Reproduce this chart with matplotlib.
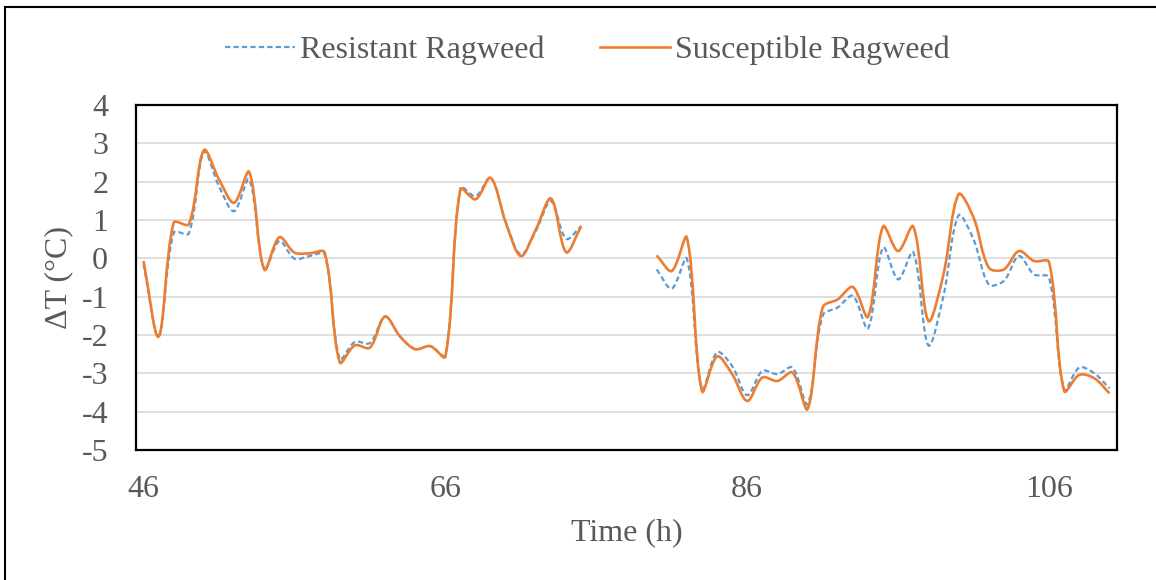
import numpy as np
import matplotlib
matplotlib.use("Agg")
import matplotlib.pyplot as plt
from matplotlib.path import Path
from matplotlib.patches import PathPatch
from matplotlib.lines import Line2D

plt.rcParams['font.family'] = ['Liberation Serif', 'DejaVu Serif']
plt.rcParams['axes.unicode_minus'] = False

# hourly readings, no data logged for 76-79 h
hours = list(range(46, 111))
nan = np.nan
resistant = [-0.15, -2.04, 0.67, 0.65, 2.78, 1.88, 1.23, 2.06, -0.29, 0.45,
             -0.01, 0.06, 0.10, -2.62, -2.18, -2.21, -1.52, -2.04, -2.37, -2.29,
             -2.53, 1.84, 1.62, 2.10, 0.95, 0.10, 0.72, 1.49, 0.51, 0.84,
             nan, nan, nan, nan,
             -0.29, -0.79, -0.01, -3.42, -2.45, -2.81, -3.57, -2.94, -3.02, -2.85,
             -3.80, -1.49, -1.28, -0.98, -1.83, 0.28, -0.55, 0.16, -2.27, -0.98,
             1.12, 0.49, -0.68, -0.59, 0.06, -0.42, -0.50, -3.42, -2.85, -3.00,
             -3.39]
susceptible = [-0.07, -2.04, 0.93, 0.89, 2.82, 2.06, 1.45, 2.25, -0.29, 0.55,
               0.15, 0.13, 0.15, -2.71, -2.27, -2.33, -1.52, -2.04, -2.37, -2.29,
               -2.56, 1.80, 1.54, 2.10, 0.93, 0.06, 0.76, 1.56, 0.16, 0.84,
               nan, nan, nan, nan,
               0.08, -0.33, 0.54, -3.46, -2.56, -3.02, -3.72, -3.11, -3.20, -2.98,
               -3.93, -1.28, -1.07, -0.75, -1.52, 0.83, 0.19, 0.83, -1.63, -0.42,
               1.67, 1.06, -0.24, -0.29, 0.19, -0.07, -0.10, -3.46, -3.04, -3.13,
               -3.52]
labels = ["Resistant Ragweed", "Susceptible Ragweed"]
colors = ["#5B9BD5", "#ED7D31"]

XLIM = (45.5, 110.5)
YLIM = (-5, 4)
AX_W, AX_H = 981, 345   # axes size in px, used to weight the smoothing


def smooth_path(x, y):
    # excel style smoothed line: bezier segments through each point,
    # handle lengths weighted by the on-screen segment lengths
    x = np.asarray(x, float)
    y = np.asarray(y, float)
    sx = AX_W / (XLIM[1] - XLIM[0])
    sy = AX_H / (YLIM[1] - YLIM[0])
    verts, codes = [], []
    ok = ~np.isnan(y)
    i = 0
    while i < len(x):
        if not ok[i]:
            i += 1
            continue
        j = i
        while j < len(x) and ok[j]:
            j += 1
        px, py = x[i:j], y[i:j]
        n = len(px)
        seg = np.hypot(np.diff(px) * sx, np.diff(py) * sy)
        out_h, in_h = [], []
        for k in range(n):
            a = max(k - 1, 0)
            d = min(k + 1, n - 1)
            tx, ty = px[d] - px[a], py[d] - py[a]
            l_in = seg[k - 1] if k > 0 else 0.0
            l_out = seg[k] if k < n - 1 else 0.0
            tot = l_in + l_out
            if tot == 0:
                tot = 1.0
            f = 1 / 3.0
            out_h.append((px[k] + tx * f * l_out / tot, py[k] + ty * f * l_out / tot))
            in_h.append((px[k] - tx * f * l_in / tot, py[k] - ty * f * l_in / tot))
        verts.append((px[0], py[0]))
        codes.append(Path.MOVETO)
        for k in range(n - 1):
            verts += [out_h[k], in_h[k + 1], (px[k + 1], py[k + 1])]
            codes += [Path.CURVE4] * 3
        i = j
    return Path(verts, codes)


fig = plt.figure(figsize=(11.56, 5.8), dpi=100)
ax = fig.add_axes([136 / 1156, 1 - 450 / 580, AX_W / 1156, AX_H / 580])

ax.add_patch(PathPatch(smooth_path(hours, resistant), fill=False, edgecolor=colors[0],
                       lw=1.6, linestyle=(0, (2.4, 1.4)), zorder=3))
ax.add_patch(PathPatch(smooth_path(hours, susceptible), fill=False, edgecolor=colors[1],
                       lw=1.9, zorder=4))

ax.set_xlim(*XLIM)
ax.set_ylim(*YLIM)
ax.set_xticks([46, 66, 86, 106])
ax.set_yticks(range(-5, 5))
ax.grid(axis='y', color='#d9d9d9', lw=1.2)
ax.set_axisbelow(True)
ax.tick_params(length=0, labelsize=23, labelcolor='#595959')
ax.tick_params(axis='x', pad=18)
ax.tick_params(axis='y', pad=20)
for s in ax.spines.values():
    s.set_linewidth(1.6)
    s.set_color('black')

ax.set_xlabel("Time (h)", fontsize=23, color='#595959', labelpad=10)
ax.set_ylabel("ΔT (°C)", fontsize=23, color='#595959', labelpad=6)

handles = [Line2D([], [], color=colors[0], lw=1.6, linestyle=(0, (2.4, 1.4))),
           Line2D([], [], color=colors[1], lw=1.9)]
leg = fig.legend(handles, labels, loc='center', bbox_to_anchor=(0.508, 1 - 50 / 580),
                 ncol=2, frameon=False, fontsize=23, handlelength=2.2,
                 handletextpad=0.15, columnspacing=1.75)
for t in leg.get_texts():
    t.set_color('#595959')

# outer chart frame
fig.add_artist(Line2D([5 / 1156, 5 / 1156], [0, 1 - 7 / 580], color='black', lw=1.5))
fig.add_artist(Line2D([5 / 1156, 1], [1 - 7 / 580, 1 - 7 / 580], color='black', lw=1.5))

fig.savefig("out.png", dpi=100)
